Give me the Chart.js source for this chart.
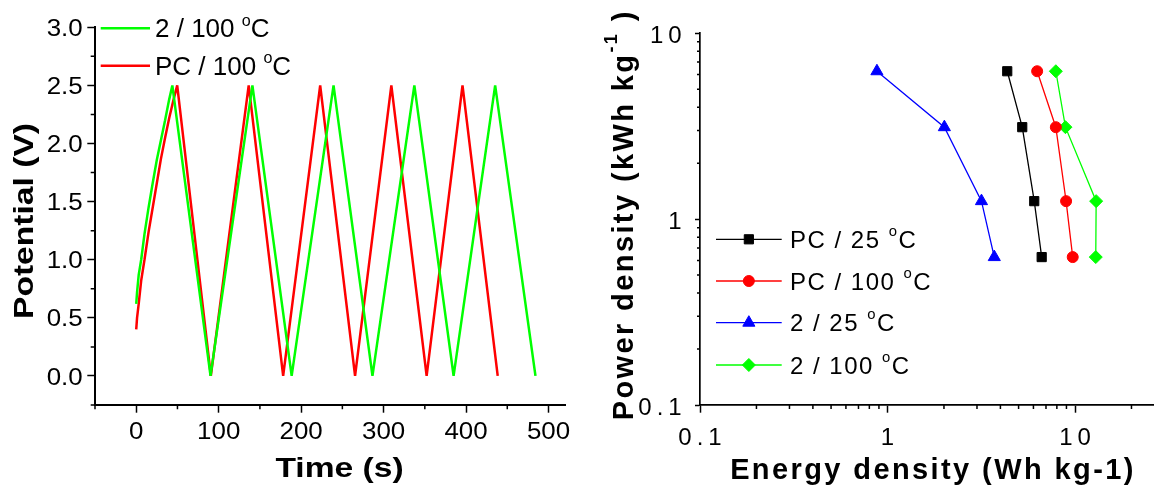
<!DOCTYPE html>
<html>
<head>
<meta charset="utf-8">
<script src="https://cdn.jsdelivr.net/npm/chart.js@4.4.1/dist/chart.umd.min.js"></script>
<style>
html, body { margin: 0; padding: 0; background: #fff; overflow: hidden; }
#wrap { position: relative; width: 1154px; height: 487px; overflow: hidden; }
canvas { position: absolute; top: 0; }
#gcd { left: 0; }
#ragone { left: 580px; }
</style>
</head>
<body>
<div id="wrap">
<canvas id="gcd" width="580" height="487"></canvas>
<canvas id="ragone" width="600" height="487"></canvas>
</div>
<script>
// charge / discharge curves (time in s, potential in V)
const timeGreen = [0, 1, 3, 6, 10, 15, 20, 25, 30, 35, 40, 43.8, 90.1, 140.9, 188.5, 239.3, 286.5, 337.3, 384.9, 435.3, 484.2];
const potentialGreen = [0.62, 0.72, 0.87, 1.0, 1.22, 1.45, 1.66, 1.86, 2.03, 2.2, 2.38, 2.5, 0, 2.5, 0, 2.5, 0, 2.5, 0, 2.5, 0];
const timeRed = [0, 1, 3, 6, 10, 15, 20, 25, 30, 35, 40, 45, 49.7, 90.5, 136.4, 178.2, 223.1, 265.4, 309.4, 352.2, 395.7, 438.4];
const potentialRed = [0.40, 0.50, 0.62, 0.82, 1.0, 1.24, 1.45, 1.66, 1.87, 2.05, 2.22, 2.37, 2.5, 0, 2.5, 0, 2.5, 0, 2.5, 0, 2.5, 0];

// Ragone plot: power density shared by all four series
const powerDensity = [6.25, 3.125, 1.25, 0.625];
const energyPC25 = [4.35, 5.23, 6.06, 6.64];
const energyPC100 = [6.28, 7.90, 8.96, 9.72];
const energy2at25 = [0.878, 2.01, 3.17, 3.71];
const energy2at100 = [7.90, 8.89, 12.96, 12.9];

// axis ticks
const timeTicks = [0, 100, 200, 300, 400, 500];
const timeMinor = [-50, 50, 150, 250, 350, 450];
const potentialTicks = [0, 0.5, 1.0, 1.5, 2.0, 2.5, 3.0];
const potentialMinor = [-0.25, 0.25, 0.75, 1.25, 1.75, 2.25, 2.75];
const logTicks = [0.1, 1, 10];
const energyMinor = [0.2, 0.3, 0.4, 0.5, 0.6, 0.7, 0.8, 0.9, 2, 3, 4, 5, 6, 7, 8, 9, 20];
const powerMinor = [0.2, 0.3, 0.4, 0.5, 0.6, 0.7, 0.8, 0.9, 2, 3, 4, 5, 6, 7, 8, 9];

const FONT = '"Liberation Sans", Arial, sans-serif';

const toXY = (xs, ys) => xs.map((x, i) => ({ x: x, y: ys[i] }));

// text with "^...^" superscripts, degree sign drawn as raised "o"
function drawText(ctx, text, x, y, st) {
  const segs = text.replace(/°/g, '^o^').split('^')
    .map((t, i) => ({ t: t, sup: i % 2 === 1 })).filter(s => s.t);
  const small = st.size * 0.62;
  const font = s => (st.bold ? 'bold ' : '') + s + 'px ' + FONT;
  const sp = st.spacing || 0;
  ctx.save();
  ctx.translate(x, y);
  if (st.rotate) ctx.rotate(st.rotate);
  if (st.sx) ctx.scale(st.sx, 1);
  ctx.fillStyle = '#000';
  ctx.textAlign = 'left';
  ctx.textBaseline = 'alphabetic';
  ctx.letterSpacing = sp + 'px';
  const widths = segs.map(s => { ctx.font = font(s.sup ? small : st.size); return ctx.measureText(s.t).width; });
  const total = widths.reduce((a, b) => a + b, 0) - sp;
  let cx = st.align === 'center' ? -total / 2 : st.align === 'right' ? -total : 0;
  segs.forEach((s, i) => {
    ctx.font = font(s.sup ? small : st.size);
    ctx.fillText(s.t, cx, s.sup ? -st.size * (st.supRise || 0.45) : 0);
    cx += widths[i];
  });
  ctx.restore();
}

function drawMarker(ctx, ds, x, y) {
  ctx.fillStyle = ds.pointBackgroundColor;
  ctx.strokeStyle = ds.pointBorderColor;
  ctx.lineWidth = ds.pointBorderWidth;
  Chart.helpers.drawPoint(ctx, { pointStyle: ds.pointStyle, radius: ds.pointRadius, borderWidth: ds.pointBorderWidth, rotation: 0 }, x, y);
}

// minor ticks, tick labels, axis titles and legend
function decor(cfg) {
  return {
    id: 'decor',
    afterDraw(chart) {
      const ctx = chart.ctx, a = chart.chartArea;
      const sx = chart.scales.x, sy = chart.scales.y;
      ctx.save();
      ctx.strokeStyle = '#000';
      ctx.lineWidth = cfg.tickWidth;
      ctx.beginPath();
      cfg.minorX.forEach(v => { const p = sx.getPixelForValue(v); ctx.moveTo(p, a.bottom); ctx.lineTo(p, a.bottom + cfg.minorLenX); });
      cfg.minorY.forEach(v => { const p = sy.getPixelForValue(v); ctx.moveTo(a.left, p); ctx.lineTo(a.left - cfg.minorLenY, p); });
      ctx.stroke();
      ctx.restore();

      const tf = cfg.tickFont;
      sx.ticks.forEach(t => drawText(ctx, cfg.fmtX(t.value), sx.getPixelForValue(t.value), cfg.xLabelY,
        Object.assign({ align: 'center' }, tf)));
      sy.ticks.forEach(t => drawText(ctx, cfg.fmtY(t.value), a.left - cfg.yLabelGap, sy.getPixelForValue(t.value) + cfg.yLabelDy,
        Object.assign({ align: 'right' }, tf)));

      const hf = cfg.titleFont;
      drawText(ctx, cfg.xTitle, (a.left + a.right) / 2 + cfg.xTitleDx, cfg.xTitleY,
        Object.assign({ bold: true, align: 'center' }, hf));
      drawText(ctx, cfg.yTitle, a.left - cfg.yTitleGap, cfg.yTitleY,
        Object.assign({ bold: true, align: 'center', rotate: -Math.PI / 2, supRise: 0.55 }, hf));

      const lg = cfg.legend;
      chart.data.datasets.forEach((ds, i) => {
        const ly = lg.rows[i];
        ctx.save();
        ctx.strokeStyle = ds.borderColor;
        ctx.lineWidth = ds.borderWidth;
        ctx.beginPath();
        ctx.moveTo(lg.x0, ly);
        ctx.lineTo(lg.x1, ly);
        ctx.stroke();
        if (ds.pointRadius > 0) drawMarker(ctx, ds, (lg.x0 + lg.x1) / 2, ly);
        ctx.restore();
        drawText(ctx, ds.label, lg.textX, ly + lg.textDy, lg.font);
      });
    }
  };
}

function axis(type, min, max, ticks, fit, tickLength, borderWidth) {
  return {
    type: type, min: min, max: max,
    afterBuildTicks: s => { s.ticks = ticks.map(v => ({ value: v })); },
    afterFit: fit,
    ticks: { display: false },
    grid: { drawOnChartArea: false, drawTicks: true, tickLength: tickLength, tickColor: '#000', tickWidth: 1.5 },
    border: { display: true, color: '#000', width: borderWidth }
  };
}

// left panel: potential vs time
new Chart(document.getElementById('gcd'), {
  type: 'scatter',
  data: {
    datasets: [
      { label: '2 / 100 °C', data: toXY(timeGreen, potentialGreen), showLine: true, borderColor: '#00ff00', borderWidth: 2.5, borderJoinStyle: 'bevel', pointRadius: 0 },
      { label: 'PC / 100 °C', data: toXY(timeRed, potentialRed), showLine: true, borderColor: '#ff0000', borderWidth: 2.5, borderJoinStyle: 'bevel', pointRadius: 0 }
    ]
  },
  options: {
    responsive: false,
    animation: false,
    events: [],
    layout: { padding: { left: 0, top: 27.3, right: 15, bottom: 0 } },
    plugins: { legend: { display: false }, tooltip: { enabled: false } },
    scales: {
      x: axis('linear', -50, 520, timeTicks, s => { s.height = 82; }, 7.7, 2),
      y: axis('linear', -0.25, 3.0, potentialTicks, s => { s.width = 95; }, 7.7, 2)
    }
  },
  plugins: [decor({
    tickWidth: 1.5, minorX: timeMinor, minorY: potentialMinor, minorLenX: 4.3, minorLenY: 4.3,
    fmtX: v => String(v),
    fmtY: v => v.toFixed(1),
    tickFont: { size: 24, sx: 1.08 },
    xLabelY: 439, yLabelGap: 12.3, yLabelDy: 8.6,
    titleFont: { size: 28, sx: 1.2 },
    xTitle: 'Time (s)', xTitleDx: 9.5, xTitleY: 476.7,
    yTitle: 'Potential (V)', yTitleGap: 61.7, yTitleY: 221,
    legend: { x0: 100.7, x1: 150, textX: 155, rows: [28.3, 65.7], textDy: 9, font: { size: 26, supRise: 0.45 } }
  })]
});

// right panel: Ragone plot
const ragoneSets = [
  { label: 'PC / 25 °C', e: energyPC25, color: '#000000', style: 'rect', r: 6.5 },
  { label: 'PC / 100 °C', e: energyPC100, color: '#ff0000', style: 'circle', r: 5.5 },
  { label: '2 / 25 °C', e: energy2at25, color: '#0000ff', style: 'triangle', r: 7 },
  { label: '2 / 100 °C', e: energy2at100, color: '#00ff00', style: 'rectRot', r: 6.5 }
];

new Chart(document.getElementById('ragone'), {
  type: 'scatter',
  data: {
    datasets: ragoneSets.map(s => ({
      label: s.label,
      data: toXY(s.e, powerDensity),
      showLine: true,
      borderColor: s.color,
      borderWidth: 1.3,
      pointStyle: s.style,
      pointRadius: s.r,
      pointBackgroundColor: s.color,
      pointBorderColor: s.color,
      pointBorderWidth: 1
    }))
  },
  options: {
    responsive: false,
    animation: false,
    events: [],
    layout: { padding: { left: 0, top: 33.3, right: 15.5, bottom: 0 } },
    plugins: { legend: { display: false }, tooltip: { enabled: false } },
    scales: {
      x: axis('logarithmic', 0.1, 30, logTicks, s => { s.height = 82; }, 7.7, 1.7),
      y: axis('logarithmic', 0.1, 10, logTicks, s => { s.width = 120; }, 5, 1.7)
    }
  },
  plugins: [decor({
    tickWidth: 1.5, minorX: energyMinor, minorY: powerMinor, minorLenX: 4, minorLenY: 3,
    fmtX: v => String(v),
    fmtY: v => String(v),
    tickFont: { size: 24, spacing: 5 },
    xLabelY: 445, yLabelGap: 18.3, yLabelDy: 10,
    titleFont: { size: 29, spacing: 2.4 },
    xTitle: 'Energy density (Wh kg-1)', xTitleDx: -0.5, xTitleY: 479,
    yTitle: 'Power density (kWh kg^-1^ )', yTitleGap: 67, yTitleY: 216,
    legend: { x0: 136, x1: 201.7, textX: 210, rows: [239.3, 281, 322.7, 365], textDy: 8.5, font: { size: 24, spacing: 1.5, supRise: 0.5 } }
  })]
});
</script>
</body>
</html>
